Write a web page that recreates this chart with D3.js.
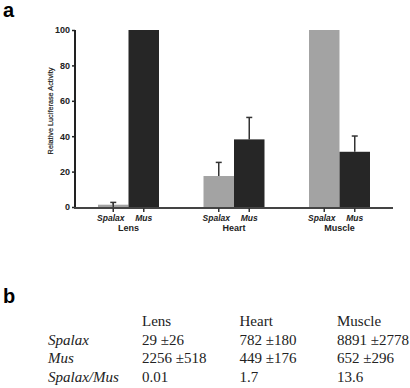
<!DOCTYPE html>
<html>
<head>
<meta charset="utf-8">
<script src="https://cdn.jsdelivr.net/npm/d3@7"></script>
<style>
  body { margin: 0; background: #fff; }
  svg { display: block; }
</style>
</head>
<body>
<div id="chart"></div>
<script>
// tissues and species
let tissues = ["Lens", "Heart", "Muscle"]
let species = ["Spalax", "Mus"]
let spalaxVals = [1.3, 17.5, 100]
let spalaxErr = [1.3, 7.7, 0]
let musVals = [100, 38.2, 31.2]
let musErr = [0, 12.4, 8.9]
let yTicks = [0, 20, 40, 60, 80, 100]

// table (panel b)
let tableCols = ["Lens", "Heart", "Muscle"]
let tableRows = ["Spalax", "Mus", "Spalax/Mus"]
let tableSpalax = ["29 \u00b126", "782 \u00b1180", "8891 \u00b12778"]
let tableMus = ["2256 \u00b1518", "449 \u00b1176", "652 \u00b1296"]
let tableRatio = ["0.01", "1.7", "13.6"]

let W = 410, H = 388
let svg = d3.select("#chart").append("svg")
    .attr("width", W).attr("height", H)
let sf = "Liberation Sans, Arial, sans-serif"

svg.append("text").attr("x", 3).attr("y", 17)
    .attr("font-family", sf)
    .attr("font-weight", "bold").attr("font-size", 20).text("a")

let plotLeft = 75, plotRight = 393, plotTop = 30, plotBottom = 207

// group start positions
let groupX = d3.scalePoint().domain(tissues).range([98, 309])
let barW = 30.5

let y = d3.scaleLinear().domain([0, 100]).range([plotBottom, plotTop])

let g = svg.append("g")

let bars = []
tissues.forEach((t, i) => {
    bars.push({t: t, s: species[0], v: spalaxVals[i], e: spalaxErr[i], k: 0})
    bars.push({t: t, s: species[1], v: musVals[i], e: musErr[i], k: 1})
})
let cx = d => groupX(d.t) + barW * d.k + barW / 2

// error bars (drawn behind bars)
g.selectAll(".err").data(bars.filter(d => d.e > 0)).enter().append("line")
    .attr("x1", cx).attr("x2", cx)
    .attr("y1", d => y(d.v))
    .attr("y2", d => y(d.v + d.e))
    .attr("stroke", "#333").attr("stroke-width", 1.5)
g.selectAll(".cap").data(bars.filter(d => d.e > 0)).enter().append("line")
    .attr("x1", d => cx(d) - 3)
    .attr("x2", d => cx(d) + 3)
    .attr("y1", d => y(d.v + d.e))
    .attr("y2", d => y(d.v + d.e))
    .attr("stroke", "#333").attr("stroke-width", 1.5)

g.selectAll(".bar").data(bars).enter().append("rect")
    .attr("x", d => groupX(d.t) + barW * d.k)
    .attr("width", barW)
    .attr("y", d => y(d.v))
    .attr("height", d => y(0) - y(d.v))
    .attr("fill", d => d.k == 0 ? "#a3a3a3" : "#262626")

// lens spalax error goes down into the tiny bar too
g.selectAll(".errdown").data(bars.filter(d => d.e > 0 && d.v < 5)).enter().append("line")
    .attr("x1", cx).attr("x2", cx)
    .attr("y1", d => y(d.v + d.e))
    .attr("y2", d => y(0))
    .attr("stroke", "#333").attr("stroke-width", 1.5)

// y axis
let yAxis = g.append("g").attr("transform", "translate(" + plotLeft + ",0)")
    .call(d3.axisLeft(y).tickValues(yTicks).tickSize(3).tickPadding(2))
yAxis.select(".domain").attr("stroke", "#222").attr("stroke-width", 2)
    .attr("d", "M0," + (plotBottom + 1) + "V" + plotTop)
yAxis.selectAll(".tick line").attr("stroke", "#222").attr("stroke-width", 1.5)
yAxis.selectAll(".tick text")
    .attr("font-family", sf)
    .attr("font-weight", "bold").attr("font-size", 9).attr("fill", "#222")

// baseline
g.append("line").attr("x1", plotLeft - 1).attr("x2", plotRight)
    .attr("y1", plotBottom + 1).attr("y2", plotBottom + 1)
    .attr("stroke", "#444").attr("stroke-width", 2)

// x ticks and labels
g.selectAll(".xt").data(bars).enter().append("line")
    .attr("x1", cx).attr("x2", cx)
    .attr("y1", plotBottom + 1).attr("y2", plotBottom + 5)
    .attr("stroke", "#333").attr("stroke-width", 1.5)
g.selectAll(".xl").data(bars).enter().append("text")
    .attr("x", d => cx(d) + (d.k == 0 ? -2.5 : 0))
    .attr("y", plotBottom + 14)
    .attr("text-anchor", "middle")
    .attr("font-family", sf)
    .attr("font-weight", "bold").attr("font-style", "italic")
    .attr("font-size", 8.5).attr("fill", "#222")
    .text(d => d.s)
g.selectAll(".gl").data(tissues).enter().append("text")
    .attr("x", d => groupX(d) + barW)
    .attr("y", plotBottom + 24)
    .attr("text-anchor", "middle")
    .attr("font-family", sf)
    .attr("font-weight", "bold").attr("font-size", 9).attr("fill", "#222")
    .text(d => d)

// y label
g.append("text")
    .attr("transform", "translate(53,111) rotate(-90)")
    .attr("text-anchor", "middle")
    .attr("font-family", sf)
    .attr("font-size", 7.3).attr("fill", "#222")
    .attr("stroke", "#222").attr("stroke-width", 0.2)
    .text("Relative Luciferase Activity")

// panel b
svg.append("text").attr("x", 3).attr("y", 303)
    .attr("font-family", sf)
    .attr("font-weight", "bold").attr("font-size", 20).text("b")

let colX = d3.scalePoint().domain(tableCols).range([142, 337])
let rowY = d3.scalePoint().domain(["head"].concat(tableRows)).range([326, 382])
let tf = "Liberation Serif, Times New Roman, serif"

svg.selectAll(".th").data(tableCols).enter().append("text")
    .attr("x", d => colX(d)).attr("y", rowY("head"))
    .attr("font-family", tf).attr("font-size", 15).attr("fill", "#222")
    .text(d => d)

svg.selectAll(".rh").data(tableRows).enter().append("text")
    .attr("x", 48).attr("y", d => rowY(d))
    .attr("font-family", tf).attr("font-size", 15).attr("font-style", "italic").attr("fill", "#222")
    .text(d => d)

let tableData = [tableSpalax, tableMus, tableRatio]
tableRows.forEach((r, i) => {
    svg.selectAll(".c" + i).data(tableData[i]).enter().append("text")
        .attr("x", (d, j) => colX(tableCols[j])).attr("y", rowY(r))
        .attr("font-family", tf).attr("font-size", 15).attr("fill", "#222")
        .text(d => d)
})
</script>
</body>
</html>
